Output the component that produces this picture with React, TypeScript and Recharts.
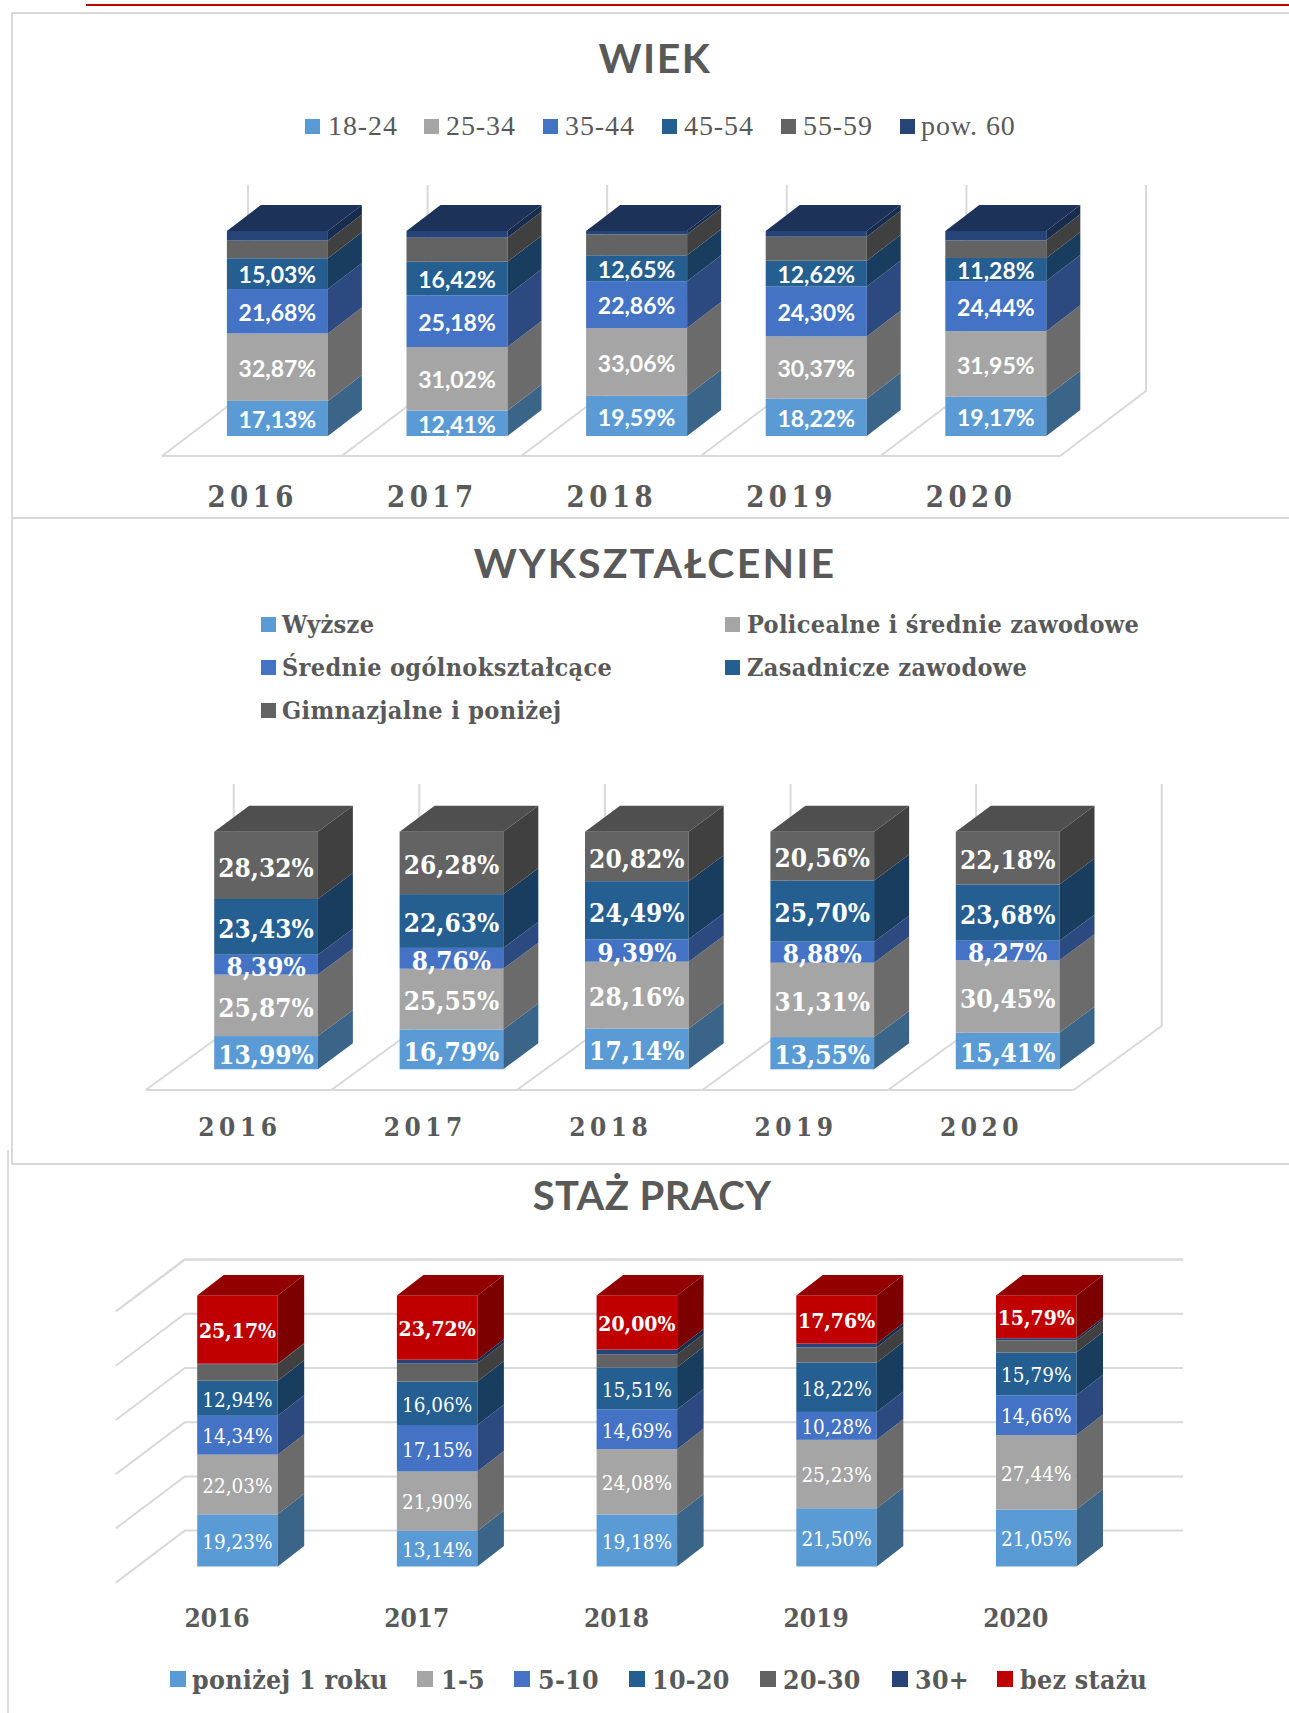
import { BarChart, Bar, XAxis, YAxis, CartesianGrid, Legend, LabelList } from 'recharts';

const years = ['2016', '2017', '2018', '2019', '2020'];

// WIEK
const wiekNames = ['18-24', '25-34', '35-44', '45-54', '55-59', 'pow. 60'];
const wiek1824 = [17.13, 12.41, 19.59, 18.22, 19.17];
const wiek2534 = [32.87, 31.02, 33.06, 30.37, 31.95];
const wiek3544 = [21.68, 25.18, 22.86, 24.3, 24.44];
const wiek4554 = [15.03, 16.42, 12.65, 12.62, 11.28];
const wiek5559 = [8.6, 11.7, 10.2, 11.7, 8.6];
const wiekPow60 = [4.69, 3.27, 1.64, 2.79, 4.56];

// WYKSZTAŁCENIE
const eduNames = ['Wyższe', 'Policealne i średnie zawodowe', 'Średnie ogólnokształcące', 'Zasadnicze zawodowe', 'Gimnazjalne i poniżej'];
const eduWyzsze = [13.99, 16.79, 17.14, 13.55, 15.41];
const eduPolicealne = [25.87, 25.55, 28.16, 31.31, 30.45];
const eduSrednie = [8.39, 8.76, 9.39, 8.88, 8.27];
const eduZasadnicze = [23.43, 22.63, 24.49, 25.7, 23.68];
const eduGimnazjalne = [28.32, 26.28, 20.82, 20.56, 22.18];

// STAŻ PRACY
const stazNames = ['poniżej 1 roku', '1-5', '5-10', '10-20', '20-30', '30+', 'bez stażu'];
const stazPonizej1 = [19.23, 13.14, 19.18, 21.5, 21.05];
const staz15 = [22.03, 21.9, 24.08, 25.23, 27.44];
const staz510 = [14.34, 17.15, 14.69, 10.28, 14.66];
const staz1020 = [12.94, 16.06, 15.51, 18.22, 15.79];
const staz2030 = [6.09, 6.73, 4.84, 5.6, 4.47];
const staz30 = [0.2, 1.3, 1.7, 1.4, 0.8];
const stazBez = [25.17, 23.72, 20.0, 17.76, 15.79];

const GRID = '#d9d9d9';
const TEXT = '#595959';
const SERIF = '"DejaVu Serif Condensed", "DejaVu Serif", serif';

const palette = [
  { front: '#5b9bd5', side: '#3a6488', top: '#3a6488' },
  { front: '#a5a5a5', side: '#6b6b6b', top: '#6b6b6b' },
  { front: '#4472c4', side: '#2c4a7f', top: '#2c4a7f' },
  { front: '#255e91', side: '#183d5e', top: '#183d5e' },
  { front: '#636363', side: '#404040', top: '#4f4f4f' },
  { front: '#264478', side: '#182c4e', top: '#1d3259' },
];
const red = { front: '#c00000', side: '#7c0000', top: '#920000' };

const toRows = (columns: number[][]) =>
  years.map((year, i) => {
    const row: Record<string, any> = { year };
    columns.forEach((col, k) => {
      row[`s${k}`] = col[i];
    });
    return row;
  });

const percent = (v: any) => `${Number(v).toFixed(2).replace('.', ',')}%`;

function make3dShape(dx: number, dy: number, side: string, top: string | null) {
  return (p: any) => {
    const { x, y, width: w, height: h, fill } = p;
    return (
      <g>
        <rect x={x} y={y} width={w} height={h} fill={fill} />
        <polygon
          points={`${x + w},${y} ${x + w + dx},${y - dy} ${x + w + dx},${y + h - dy} ${x + w},${y + h}`}
          fill={side}
        />
        {top && (
          <polygon
            points={`${x},${y} ${x + dx},${y - dy} ${x + w + dx},${y - dy} ${x + w},${y}`}
            fill={top}
          />
        )}
      </g>
    );
  };
}

type LegendSpot = { marker: number; text: number; y: number };

function StackedChart(props: any) {
  const {
    top, height, title, names, columns, colors, labelled, labelStyle, labelOverride,
    plotLeft, band, plotTop, plotBottom, barWidth, dx, dy, tickShift, tickY, tickStyle,
    legendSpots, legendStyle, markerSize, children, gridTicks,
  } = props;
  const rows = toRows(columns);
  const width = 1289;
  return (
    <div style={{ position: 'absolute', left: 0, top, width, height }}>
      <BarChart
        width={width}
        height={height}
        data={rows}
        margin={{ top: plotTop - top, left: plotLeft, right: width - plotLeft - band * years.length, bottom: 0 }}
        barSize={barWidth}
      >
        <text {...title} fill={TEXT} textAnchor="middle" dominantBaseline="central">
          {title.children}
        </text>
        {children}
        <XAxis
          dataKey="year"
          height={top + height - plotBottom}
          axisLine={false}
          tickLine={false}
          interval={0}
          tick={(t: any) => (
            <text x={t.x + tickShift} y={tickY - top} fill={TEXT} textAnchor="middle" dominantBaseline="central" {...tickStyle}>
              {t.payload.value}
            </text>
          )}
        />
        <YAxis hide domain={[0, 100]} ticks={gridTicks} />
        {gridTicks && (
          <CartesianGrid
            vertical={false}
            horizontal={(g: any) => {
              const backX = g.x1 + 47.6;
              const backY = g.y1 - 35.9;
              return (
                <polyline
                  key={g.key}
                  points={`${g.x1 - 21.4},${backY + 52} ${backX},${backY} ${g.x2 + 47.5},${backY}`}
                  fill="none"
                  stroke={GRID}
                  strokeWidth={2}
                />
              );
            }}
          />
        )}
        <Legend
          verticalAlign="middle"
          wrapperStyle={{ left: 0, top: 0, width, height }}
          content={(c: any) => {
            const items = [...(c.payload ?? [])].sort((a: any, b: any) => (a.dataKey < b.dataKey ? -1 : 1));
            return (
              <div>
                {items.map((item: any, i: number) => {
                  const spot: LegendSpot = legendSpots[i];
                  return (
                    <div key={item.value}>
                      <div
                        style={{
                          position: 'absolute',
                          left: spot.marker,
                          top: spot.y - top - markerSize / 2,
                          width: markerSize,
                          height: markerSize,
                          background: item.color,
                        }}
                      />
                      <div
                        style={{
                          position: 'absolute',
                          left: spot.text,
                          top: spot.y - top,
                          transform: 'translateY(-50%)',
                          whiteSpace: 'nowrap',
                          color: TEXT,
                          ...legendStyle,
                        }}
                      >
                        {item.value}
                      </div>
                    </div>
                  );
                })}
              </div>
            );
          }}
        />
        {columns.map((_: number[], k: number) => (
          <Bar
            key={k}
            dataKey={`s${k}`}
            name={names[k]}
            stackId="a"
            fill={colors[k].front}
            isAnimationActive={false}
            shape={make3dShape(dx, dy, colors[k].side, k === columns.length - 1 ? colors[k].top : null)}
          >
            {labelled.includes(k) && (
              <LabelList
                dataKey={`s${k}`}
                position="center"
                formatter={percent}
                fill="#ffffff"
                {...labelStyle}
                {...(labelOverride && k === columns.length - 1 ? labelOverride : {})}
              />
            )}
          </Bar>
        ))}
      </BarChart>
    </div>
  );
}

// floor and back wall of the 3D box, as in the first two charts
function Floor({ top, x0, step, floorY, backDx, backDy, wallTop }: any) {
  const stops = [0, 1, 2, 3, 4, 5];
  return (
    <g stroke={GRID} strokeWidth={2} fill="none">
      <line x1={x0} y1={floorY - top} x2={x0 + step * 5} y2={floorY - top} />
      {stops.map((i) => (
        <polyline
          key={i}
          points={`${x0 + step * i},${floorY - top} ${x0 + step * i + backDx},${floorY - top - backDy} ${x0 + step * i + backDx},${wallTop - top}`}
        />
      ))}
    </g>
  );
}

const line = (style: any) => <div style={{ position: 'absolute', background: GRID, ...style }} />;

export default function App() {
  return (
    <div style={{ position: 'absolute', left: 0, top: 0, width: 1289, height: 1713, background: '#fff', overflow: 'hidden' }}>
      <div style={{ position: 'absolute', left: 86, top: 4, width: 1203, height: 2, background: '#c00000' }} />
      {line({ left: 11, top: 12, width: 1278, height: 2 })}
      {line({ left: 11, top: 12, width: 2, height: 1152 })}
      {line({ left: 11, top: 517, width: 1278, height: 2 })}
      {line({ left: 7, top: 1150, width: 2, height: 563 })}
      {line({ left: 11, top: 1163, width: 1278, height: 2 })}

      <StackedChart
        top={14}
        height={500}
        title={{ x: 655, y: 43, fontFamily: 'Lato', fontWeight: 700, fontSize: 41, letterSpacing: 1.5, children: 'WIEK' }}
        names={wiekNames}
        columns={[wiek1824, wiek2534, wiek3544, wiek4554, wiek5559, wiekPow60]}
        colors={palette}
        labelled={[0, 1, 2, 3]}
        labelStyle={{ fontFamily: 'Lato', fontWeight: 700, fontSize: 23, dy: 1.5 }}
        plotLeft={187.9}
        band={179.6}
        plotTop={231}
        plotBottom={436}
        barWidth={101}
        dx={34}
        dy={26}
        tickShift={-25}
        tickY={497}
        tickStyle={{ fontFamily: SERIF, fontWeight: 700, fontSize: 29, letterSpacing: 4.5 }}
        markerSize={15}
        legendStyle={{ fontFamily: 'Liberation Serif', fontSize: 28, letterSpacing: 0.9 }}
        legendSpots={[
          { marker: 305, text: 328, y: 126 },
          { marker: 424, text: 446, y: 126 },
          { marker: 543, text: 565, y: 126 },
          { marker: 662, text: 684, y: 126 },
          { marker: 781, text: 803, y: 126 },
          { marker: 900, text: 921, y: 126 },
        ]}
      >
        <Floor top={14} x0={162} step={179.6} floorY={456} backDx={86} backDy={65} wallTop={185} />
      </StackedChart>

      <StackedChart
        top={520}
        height={640}
        title={{ x: 655, y: 42, fontFamily: 'Lato', fontWeight: 700, fontSize: 41, letterSpacing: 2.2, children: 'WYKSZTAŁCENIE' }}
        names={eduNames}
        columns={[eduWyzsze, eduPolicealne, eduSrednie, eduZasadnicze, eduGimnazjalne]}
        colors={palette}
        labelled={[0, 1, 2, 3, 4]}
        labelStyle={{ fontFamily: SERIF, fontWeight: 700, fontSize: 26, dy: 2 }}
        plotLeft={173.2}
        band={185.4}
        plotTop={831.7}
        plotBottom={1069.3}
        barWidth={103.7}
        dx={35}
        dy={26}
        tickShift={-26}
        tickY={1127}
        tickStyle={{ fontFamily: SERIF, fontWeight: 700, fontSize: 26, letterSpacing: 4.5 }}
        markerSize={15}
        legendStyle={{ fontFamily: SERIF, fontWeight: 700, fontSize: 25, letterSpacing: 0.35 }}
        legendSpots={[
          { marker: 261, text: 282, y: 624 },
          { marker: 725, text: 747, y: 624 },
          { marker: 261, text: 282, y: 667 },
          { marker: 725, text: 747, y: 667 },
          { marker: 261, text: 282, y: 710 },
        ]}
      >
        <Floor top={520} x0={145.7} step={185.6} floorY={1090} backDx={88} backDy={64} wallTop={784} />
      </StackedChart>

      <StackedChart
        top={1165}
        height={548}
        title={{ x: 652, y: 30, fontFamily: 'Lato', fontWeight: 700, fontSize: 40, letterSpacing: 0.4, children: 'STAŻ PRACY' }}
        names={stazNames}
        columns={[stazPonizej1, staz15, staz510, staz1020, staz2030, staz30, stazBez]}
        colors={[...palette, red]}
        labelled={[0, 1, 2, 3, 6]}
        labelStyle={{ fontFamily: SERIF, fontSize: 20.5, dy: 1 }}
        labelOverride={{ fontWeight: 700, fontSize: 21 }}
        plotLeft={137.2}
        band={199.7}
        plotTop={1295.4}
        plotBottom={1566.5}
        barWidth={80.5}
        dx={26.5}
        dy={20.5}
        tickShift={-20}
        tickY={1617.5}
        tickStyle={{ fontFamily: SERIF, fontWeight: 700, fontSize: 26 }}
        markerSize={16}
        legendStyle={{ fontFamily: SERIF, fontWeight: 700, fontSize: 26.5, letterSpacing: 0.3 }}
        gridTicks={[0, 20, 40, 60, 80, 100]}
        legendSpots={[
          { marker: 170, text: 192, y: 1679 },
          { marker: 417, text: 441, y: 1679 },
          { marker: 514, text: 538, y: 1679 },
          { marker: 629, text: 652, y: 1679 },
          { marker: 760, text: 783, y: 1679 },
          { marker: 892, text: 915, y: 1679 },
          { marker: 997, text: 1020, y: 1679 },
        ]}
      />
    </div>
  );
}
